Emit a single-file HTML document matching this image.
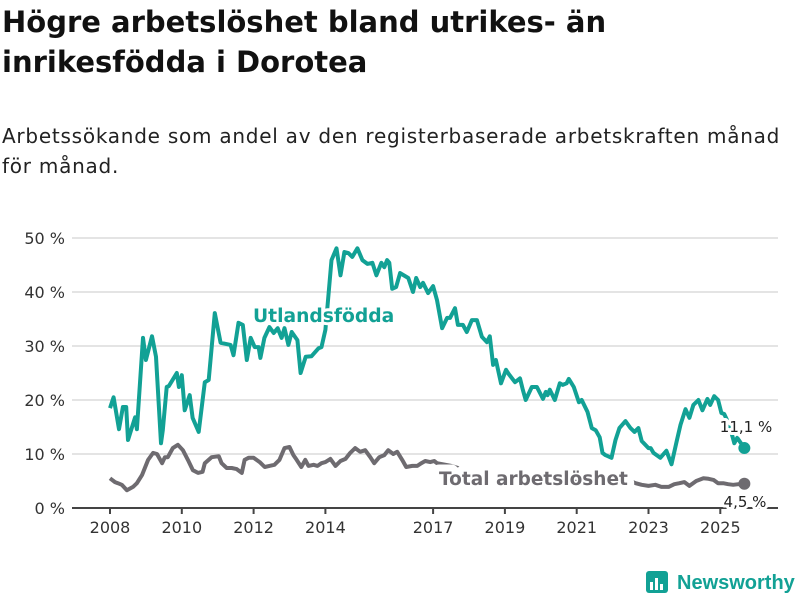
<!DOCTYPE html>
<html><head><meta charset="utf-8">
<style>
body{margin:0;background:#fff;width:800px;height:600px;overflow:hidden;font-family:"DejaVu Sans","Liberation Sans",sans-serif;}
h1{position:absolute;left:2px;top:2px;margin:0;font-size:29px;line-height:40px;font-weight:bold;color:#111;}
p{position:absolute;left:2px;top:121px;margin:0;font-size:20px;line-height:30px;color:#222;letter-spacing:0.75px;}
svg{position:absolute;left:0;top:0;font-family:"DejaVu Sans","Liberation Sans",sans-serif;}
</style></head><body>
<h1>Högre arbetslöshet bland utrikes- än<br>inrikesfödda i Dorotea</h1>
<p>Arbetssökande som andel av den registerbaserade arbetskraften månad<br>för månad.</p>
<svg id="chart" width="800" height="600"></svg>
<script>
const yTicks=[0,10,20,30,40,50];
const xTicks=[2008,2010,2012,2014,2017,2019,2021,2023,2025];
const foreignDates=[2008.0,2008.1,2008.25,2008.36,2008.45,2008.5,2008.7,2008.75,2008.92,2009.0,2009.17,2009.28,2009.42,2009.47,2009.58,2009.64,2009.86,2009.92,2010.0,2010.08,2010.22,2010.3,2010.47,2010.64,2010.75,2010.83,2010.92,2011.08,2011.36,2011.44,2011.58,2011.7,2011.81,2011.92,2012.03,2012.14,2012.19,2012.3,2012.44,2012.56,2012.67,2012.78,2012.86,2012.97,2013.06,2013.22,2013.31,2013.45,2013.61,2013.81,2013.89,2014.0,2014.06,2014.17,2014.31,2014.42,2014.53,2014.64,2014.75,2014.89,2015.03,2015.17,2015.31,2015.42,2015.56,2015.64,2015.72,2015.78,2015.86,2015.97,2016.08,2016.31,2016.44,2016.53,2016.64,2016.72,2016.86,2017.0,2017.11,2017.25,2017.39,2017.47,2017.61,2017.69,2017.83,2017.94,2018.08,2018.22,2018.36,2018.5,2018.58,2018.67,2018.75,2018.89,2019.03,2019.11,2019.28,2019.42,2019.5,2019.58,2019.75,2019.89,2020.06,2020.14,2020.19,2020.25,2020.39,2020.53,2020.61,2020.72,2020.78,2020.92,2021.06,2021.14,2021.3,2021.42,2021.53,2021.64,2021.72,2021.8,2021.97,2022.08,2022.19,2022.36,2022.5,2022.61,2022.72,2022.81,2023.0,2023.06,2023.14,2023.33,2023.5,2023.64,2023.78,2023.89,2024.03,2024.14,2024.25,2024.39,2024.5,2024.64,2024.72,2024.83,2024.94,2025.03,2025.11,2025.25,2025.39,2025.47,2025.67];
const foreignValues=[18.5,20.5,14.6,18.7,18.7,12.6,16.8,14.6,31.5,27.4,31.8,28,12,14.4,22.4,22.6,25,22.4,24.6,18.1,20.9,16.7,14.1,23.3,23.7,29.6,36.1,30.6,30.2,28.3,34.3,33.9,27.4,31.5,29.8,29.8,27.8,31.5,33.5,32.4,33.3,31.5,33.3,30.2,32.6,31.1,25,28,28.1,29.6,29.8,33,37.6,45.9,48.1,43.1,47.4,47.2,46.5,48.1,45.9,45.2,45.4,43.1,45.4,44.6,45.9,45.4,40.6,40.9,43.5,42.6,40,42.6,40.9,41.7,39.8,41.1,38.5,33.3,35.2,35.2,37,33.9,33.9,32.6,34.8,34.8,31.7,30.7,31.8,26.5,27.4,23.1,25.6,24.8,23.3,24,21.9,20,22.4,22.4,20.2,21.5,20.9,21.9,20,23.1,22.8,23.1,23.9,22.4,19.6,20,17.8,14.8,14.4,13.1,10.2,9.8,9.3,12.6,14.8,16.1,14.8,14.1,14.8,12.4,11.1,11.1,10.2,9.3,10.6,8.1,12.2,15.4,18.3,16.7,19.1,20,18.1,20.2,19.1,20.7,20,17.6,17.4,15.4,12,13,11.1];
const totalDates=[2008.0,2008.14,2008.22,2008.33,2008.47,2008.64,2008.75,2008.89,2009.06,2009.2,2009.31,2009.45,2009.53,2009.61,2009.75,2009.89,2010.03,2010.17,2010.31,2010.45,2010.58,2010.64,2010.83,2011.03,2011.11,2011.25,2011.39,2011.53,2011.67,2011.75,2011.86,2012.0,2012.17,2012.31,2012.44,2012.58,2012.72,2012.86,2013.0,2013.11,2013.2,2013.33,2013.44,2013.53,2013.67,2013.78,2013.89,2014.0,2014.14,2014.28,2014.42,2014.56,2014.69,2014.83,2014.97,2015.11,2015.25,2015.36,2015.5,2015.64,2015.75,2015.89,2016.0,2016.14,2016.25,2016.42,2016.56,2016.67,2016.78,2016.92,2017.03,2017.11,2017.5,2018.3,2019.1,2020.1,2020.9,2021.7,2022.3,2022.5,2022.64,2022.81,2023.0,2023.19,2023.36,2023.56,2023.72,2023.86,2024.0,2024.14,2024.33,2024.53,2024.67,2024.81,2024.94,2025.08,2025.22,2025.36,2025.5,2025.67];
const totalValues=[5.5,4.8,4.6,4.3,3.3,3.9,4.6,6.1,8.9,10.2,10,8.3,9.4,9.4,11.1,11.7,10.7,8.9,7,6.5,6.7,8.3,9.4,9.6,8.3,7.4,7.4,7.2,6.5,8.9,9.3,9.3,8.5,7.6,7.8,8,8.9,11.1,11.3,9.8,8.9,7.6,8.9,7.8,8,7.8,8.3,8.5,9.1,7.8,8.7,9.1,10.2,11.1,10.4,10.7,9.4,8.3,9.4,9.8,10.7,10,10.4,8.9,7.6,7.8,7.8,8.3,8.7,8.5,8.7,8.3,7.8,6.2,5.8,5.6,5.4,5.2,5,5,4.6,4.3,4.1,4.3,3.9,3.9,4.4,4.6,4.8,4.1,5,5.5,5.4,5.2,4.6,4.6,4.4,4.3,4.4,4.5];

const NS='http://www.w3.org/2000/svg';
const svg=document.getElementById('chart');
const X=y=>110+(y-2008)*35.9;
const Y=v=>508-v*5.4;
function mk(tag,attrs,parent){const e=document.createElementNS(NS,tag);for(const k in attrs)e.setAttribute(k,attrs[k]);(parent||svg).appendChild(e);return e;}

yTicks.forEach(t=>{
  if(t>0){const g=mk('line',{x1:72,x2:778,y1:Y(t),y2:Y(t),stroke:'#dcdcdc','stroke-width':1.5});
  
  }
  const tx=mk('text',{x:65,y:Y(t)+6,'text-anchor':'end','font-size':16,fill:'#333'});
  tx.textContent=t+' %';
  
  
});
const ax=mk('line',{x1:72,x2:778,y1:508,y2:508,stroke:'#444','stroke-width':2});


xTicks.forEach(t=>{
  const tk=mk('line',{x1:X(t),x2:X(t),y1:508,y2:514,stroke:'#444','stroke-width':2});
  
  
  const tx=mk('text',{x:X(t),y:533,'text-anchor':'middle','font-size':16,fill:'#333'});
  tx.textContent=t;
  
  
});
function pts(d,v){const n=Math.min(d.length,v.length);const r=[];for(let i=0;i<n;i++)r.push([X(d[i]),Y(v[i])]);return r;}
function path(p){return p.map((q,i)=>(i?'L':'M')+q[0].toFixed(1)+','+q[1].toFixed(1)).join('');}
const tp=pts(totalDates,totalValues), fp=pts(foreignDates,foreignValues);
const tl=mk('path',{d:path(tp),fill:'none',stroke:'#6e6b70','stroke-width':4,'stroke-linejoin':'round'});


const fl=mk('path',{d:path(fp),fill:'none',stroke:'#12a195','stroke-width':4,'stroke-linejoin':'round'});


const fe=fp[fp.length-1], te=tp[tp.length-1];
const d1=mk('circle',{cx:fe[0],cy:fe[1],r:6,fill:'#12a195'});


const d2=mk('circle',{cx:te[0],cy:te[1],r:6,fill:'#6e6b70'});


function lbl(txt,x,y,size,weight,fill,name,anchor,sw){
  const t=mk('text',{x:x,y:y,'font-size':size,'font-weight':weight,fill:fill,stroke:'#fff','stroke-width':sw||6,'paint-order':'stroke','stroke-linejoin':'round','text-anchor':anchor||'start'});
  t.textContent=txt;
  
  
}
lbl('Utlandsfödda',253,322,18.7,'bold','#12a195','foreign-born-label');
lbl('Total arbetslöshet',439,485,18.5,'bold','#6e6b70','total-label','start',14);
lbl('11,1 %',746,432,15,'normal','#222','foreign-born-end-label','middle');
lbl('4,5 %',745,507,15,'normal','#222','total-end-label','middle');
</script>
<svg width="800" height="600" style="pointer-events:none">
<rect x="646" y="571" width="22" height="22" rx="3" fill="#12a195"/>
<rect x="650" y="582" width="3" height="8" fill="#fff"/><rect x="655" y="578" width="3" height="12" fill="#fff"/><rect x="660" y="584" width="3" height="6" fill="#fff"/>
<text x="677" y="589" font-size="20" font-weight="bold" fill="#12a195" style="font-family:'Liberation Sans',sans-serif">Newsworthy</text>
</svg>
</body></html>
